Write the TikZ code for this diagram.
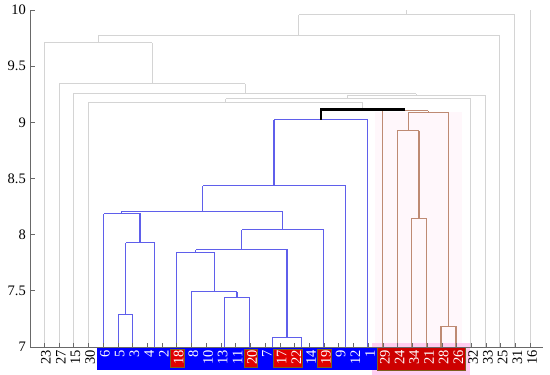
\documentclass[tikz,border=0pt]{standalone}
\usepackage{fontspec}
\setmainfont{Liberation Serif}
\definecolor{grayline}{RGB}{212,212,212}
\definecolor{blueline}{RGB}{95,95,235}
\definecolor{tanline}{RGB}{190,138,115}
\definecolor{axisc}{RGB}{105,105,105}
\definecolor{boxblue}{RGB}{0,0,255}
\definecolor{boxred}{RGB}{205,0,0}
\definecolor{patchred}{RGB}{225,0,0}
\definecolor{boxedge}{RGB}{125,95,30}
\definecolor{halo}{RGB}{255,205,240}
\definecolor{faintpink}{RGB}{255,247,251}
\begin{document}
\begin{tikzpicture}[x=1pt,y=-1pt,
  gr/.style={draw=grayline,line width=1pt},
  bl/.style={draw=blueline,line width=1.2pt},
  rd/.style={draw=tanline,line width=1.1pt},
  topjoin/.style={draw=black,line width=2.6pt},
  axisline/.style={draw=axisc,line width=0.9pt},
  lab/.style={font=\fontsize{14.5}{15}\selectfont,inner sep=0pt},
  leaf/.style={lab,rotate=90,anchor=east}]
\useasboundingbox (0,0) rectangle (550,375);

% backgrounds
\fill[faintpink] (375,112) rectangle (462,343);
\fill[halo] (372,343) rectangle (470,375);
\fill[boxblue] (97,347) rectangle (377,370);
\filldraw[fill=boxred,draw=boxedge,line width=0.6pt] (377,347) rectangle (465,370);
% red patches behind labels in blue box
\filldraw[fill=patchred,draw=boxedge,line width=0.6pt] (170.5,349.5) rectangle (184,367.5);
\filldraw[fill=patchred,draw=boxedge,line width=0.6pt] (244,349.5) rectangle (257.5,367.5);
\filldraw[fill=patchred,draw=boxedge,line width=0.6pt] (273,349.5) rectangle (302.5,367.5);
\filldraw[fill=patchred,draw=boxedge,line width=0.6pt] (317.5,349.5) rectangle (331,367.5);

% gray part of the tree
\draw[gr] (362.7,109.5)--(362.7,102.5);
\draw[gr] (88.3,347)--(88.3,102.5)--(362.7,102.5);
\draw[gr] (225.5,102.5)--(225.5,98.5);
\draw[gr] (470,347)--(470,98.5)--(225.5,98.5);
\draw[gr] (347.8,98.5)--(347.8,95);
\draw[gr] (485,347)--(485,95)--(347.8,95);
\draw[gr] (416.4,95)--(416.4,93.5);
\draw[gr] (73.3,347)--(73.3,93.5)--(416.4,93.5);
\draw[gr] (245,93.5)--(245,83.5);
\draw[gr] (59,347)--(59,83.5)--(245,83.5);
\draw[gr] (152,83.5)--(152,42.5);
\draw[gr] (44.3,347)--(44.3,42.5)--(152,42.5);
\draw[gr] (98.2,42.5)--(98.2,35.5);
\draw[gr] (499.3,347)--(499.3,35.5)--(98.2,35.5);
\draw[gr] (298.8,35.5)--(298.8,14.5);
\draw[gr] (514.3,347)--(514.3,14.5)--(298.8,14.5);
\draw[gr] (406.5,14.5)--(406.5,10);
\draw[gr] (530,347)--(530,10);

% blue cluster
\draw[bl] (103.5,347)--(103.5,213.5);
\draw[bl] (118.5,347)--(118.5,314.5)--(132.5,314.5)--(132.5,347);
\draw[bl] (125.5,314.5)--(125.5,242.5);
\draw[bl] (154.5,347)--(154.5,242.5)--(125.5,242.5);
\draw[bl] (140,242.5)--(140,213.5)--(103.5,213.5);
\draw[bl] (121.5,213.5)--(121.5,211.5)--(282.5,211.5);
\draw[bl] (224.5,347)--(224.5,297.5)--(249.5,297.5)--(249.5,347);
\draw[bl] (237,297.5)--(237,291.5);
\draw[bl] (191.5,347)--(191.5,291.5)--(237,291.5);
\draw[bl] (214.5,291.5)--(214.5,252.5);
\draw[bl] (176.5,347)--(176.5,252.5)--(214.5,252.5);
\draw[bl] (195.5,252.5)--(195.5,249.5);
\draw[bl] (272.5,347)--(272.5,337.5)--(301.5,337.5)--(301.5,347);
\draw[bl] (287,337.5)--(287,249.5)--(195.5,249.5);
\draw[bl] (241.5,249.5)--(241.5,229.5);
\draw[bl] (323.5,347)--(323.5,229.5)--(241.5,229.5);
\draw[bl] (282.5,229.5)--(282.5,211.5);
\draw[bl] (202.5,211.5)--(202.5,185.5);
\draw[bl] (345.5,347)--(345.5,185.5)--(202.5,185.5);
\draw[bl] (274,185.5)--(274,119.5);
\draw[bl] (367.5,347)--(367.5,119.5)--(274,119.5);

% red cluster
\draw[rd] (411.5,347)--(411.5,218.5)--(426.5,218.5)--(426.5,347);
\draw[rd] (419,218.5)--(419,130.5);
\draw[rd] (397.5,347)--(397.5,130.5)--(419,130.5);
\draw[rd] (408.3,130.5)--(408.3,112.5);
\draw[rd] (441,347)--(441,326.5)--(456,326.5)--(456,347);
\draw[rd] (448.5,326.5)--(448.5,112.5)--(408.3,112.5);
\draw[rd] (428.4,112.5)--(428.4,110.7);
\draw[rd] (382.5,347)--(382.5,110.7)--(428.4,110.7);

% top join of the two clusters
\draw[topjoin] (320.8,119.5)--(320.8,109.3)--(405.3,109.3);

% axes
\draw[axisline] (30,10)--(30,347)--(543,347);
\foreach \v/\t [count=\k from 0] in {347/7,290.8/7.5,234.7/8,178.5/8.5,122.3/9,66.2/9.5,10/10} {
  \draw[axisline] (30,\v)--(34.5,\v);
  \node[lab,anchor=east] (y\k) at (26,\v) {\t};
}
\foreach \i in {1,...,34} {
  \draw[axisline] ({44.3+(\i-1)*14.73},347)--({44.3+(\i-1)*14.73},342.5);
}
% leaf labels
\foreach \t/\i in {23/1,27/2,15/3,30/4,32/30,33/31,25/32,31/33,16/34} {
  \node[leaf,text=black] (l\i) at ({46+(\i-1)*14.73},350) {\t};
}
\foreach \t/\i in {6/5,5/6,3/7,4/8,2/9,18/10,8/11,10/12,13/13,11/14,20/15,7/16,17/17,22/18,14/19,19/20,9/21,12/22,1/23,29/24,24/25,34/26,21/27,28/28,26/29} {
  \node[leaf,text=white] (l\i) at ({46+(\i-1)*14.73},350) {\t};
}
\end{tikzpicture}
\end{document}
